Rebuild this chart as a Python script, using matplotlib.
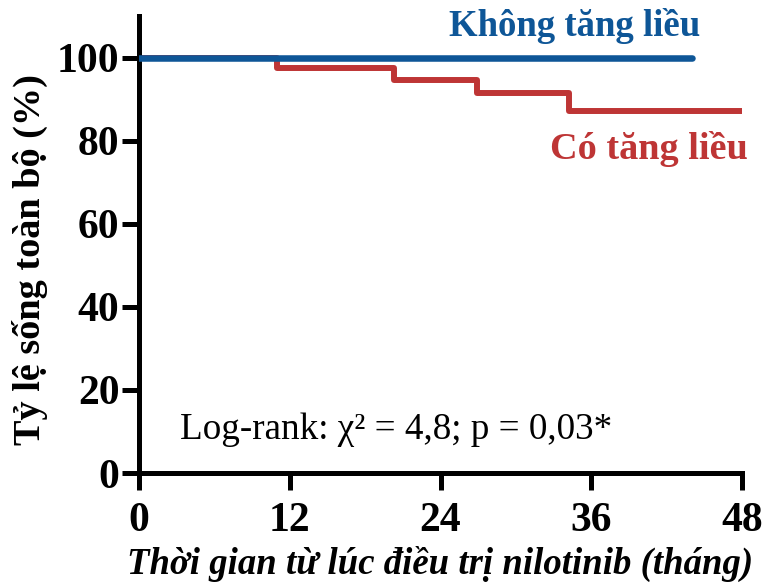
import matplotlib
matplotlib.use("Agg")
import matplotlib.pyplot as plt

# Data
time_no_increase = [0, 44]
surv_no_increase = [100, 100]
time_increase = [0, 11, 20.3, 26.9, 34.2, 48]
surv_increase = [100, 97.5, 94.6, 91.5, 87.1, 87.1]
x_ticks = [0, 12, 24, 36, 48]
y_ticks = [0, 20, 40, 60, 80, 100]
label_no = "Không tăng liều"
label_yes = "Có tăng liều"
stat_text = "Log-rank: χ² = 4,8; p = 0,03*"
xlabel = "Thời gian từ lúc điều trị nilotinib (tháng)"
ylabel = "Tỷ lệ sống toàn bộ (%)"

BLUE = "#0E5697"
RED = "#BE3535"

plt.rcParams['font.family'] = ['Liberation Serif', 'DejaVu Serif']

fig = plt.figure(figsize=(7.66, 5.86), dpi=100)
ax = fig.add_axes([139/766, 1-473/586, (742-139)/766, (473-16)/586])

ax.step(time_increase, surv_increase, where='post', color=RED, lw=4.3,
        solid_capstyle='round', zorder=2)
ax.plot(time_no_increase, surv_no_increase, color=BLUE, lw=4.7,
        solid_capstyle='round', zorder=3)

ax.set_xlim(0, 48)
ax.set_ylim(0, 110)
ax.set_xticks(x_ticks)
ax.set_yticks(y_ticks)
for s in ['top', 'right']:
    ax.spines[s].set_visible(False)
for s in ['left', 'bottom']:
    ax.spines[s].set_linewidth(3.6)
    ax.spines[s].set_color('black')
ax.tick_params(axis='both', length=12, width=3.6, direction='out',
               labelsize=30)
ax.tick_params(axis='x', pad=9)
ax.tick_params(axis='y', pad=2)
for lab in ax.get_xticklabels() + ax.get_yticklabels():
    lab.set_fontweight('bold')
for line in ax.get_xticklines() + ax.get_yticklines():
    line.set_clip_on(False)

ax.set_xlabel(xlabel, fontsize=26.5, fontstyle='italic', fontweight='bold')
ax.xaxis.label.set_va('center')
ax.xaxis.set_label_coords(0.5, -0.198)
ax.set_ylabel(ylabel, fontsize=27.5, fontweight='bold')
ax.yaxis.label.set_va('center')
ax.yaxis.set_label_coords(-0.181, 0.466)

ax.text(34.7, 107.5, label_no, color=BLUE, fontsize=26.5, fontweight='bold',
        ha='center', va='center')
ax.text(40.6, 78, label_yes, color=RED, fontsize=27.5, fontweight='bold',
        ha='center', va='center')
ax.text(3.3, 10.3, stat_text, fontsize=26.7, ha='left', va='center')

fig.savefig("out.png", dpi=100)
